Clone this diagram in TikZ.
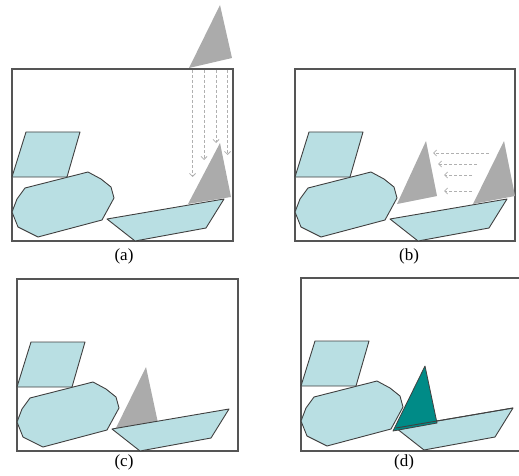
\documentclass[tikz,border=0pt]{standalone}
\usepackage{fontspec}
\setmainfont{Liberation Serif}
\usetikzlibrary{arrows.meta}
\definecolor{lb}{HTML}{B9DFE3}
\definecolor{gr}{HTML}{ABABAB}
\definecolor{tl}{HTML}{008B87}
\definecolor{ol}{HTML}{404040}
\definecolor{fr}{HTML}{555555}
\definecolor{ar}{HTML}{B0B0B0}
\newcommand\baseshapes{%
  \draw[shp] (26,132) -- (80,132) -- (67,177) -- (12,177) -- cycle;
  \draw[shp] (25,188) -- (88,172) -- (101,179) -- (111,187) -- (114,198) -- (102,220) -- (38,237) -- (18,227) -- (12,212) -- (17,199) -- cycle;
  \draw[shp] (107,219) -- (224,199) -- (206,228) -- (135,241) -- cycle;
}
\begin{document}
\begin{tikzpicture}[x=1pt,y=-1pt,
 shp/.style={fill=lb,draw=ol,line width=0.9pt,line join=round},
 frm/.style={draw=fr,line width=1.1pt},
 gtri/.style={fill=gr},
 ttri/.style={fill=tl,draw=ol,line width=0.8pt,line join=round},
 darr/.style={draw=ar,dash pattern=on 3pt off 2pt,line width=0.8pt,-{Straight Barb[length=3pt,width=6pt]}},
 lbl/.style={font=\fontsize{17}{17}\selectfont,inner sep=0pt}]
\useasboundingbox (0,0) rectangle (519,476);
% ---------- (a)
\begin{scope}
  \draw[frm] (12,69) rectangle (233,241);
  \fill[gtri] (220,5) -- (189,68) -- (232,58) -- cycle;
  \fill[gtri] (220,143) -- (188,204) -- (231,197) -- cycle;
  \baseshapes
  \coordinate (a1s) at (192.5,70); \coordinate (a1e) at (192.5,177);
  \coordinate (a2s) at (204,70);   \coordinate (a2e) at (204,160);
  \coordinate (a3s) at (216,70);   \coordinate (a3e) at (216,143);
  \coordinate (a4s) at (227.5,70); \coordinate (a4e) at (227.5,155);
  \draw[darr] (a1s) -- (a1e);
  \draw[darr] (a2s) -- (a2e);
  \draw[darr] (a3s) -- (a3e);
  \draw[darr] (a4s) -- (a4e);
  \node[lbl] (la) at (124,256) {(a)};
\end{scope}
% ---------- (b)
\begin{scope}[shift={(283,0)}]
  \draw[frm] (12,69) rectangle (232,241);
  \fill[gtri] (143,141) -- (114,204) -- (154,196) -- cycle;
  \fill[gtri] (221,141) -- (190,204) -- (232,196) -- cycle;
  \baseshapes
  \coordinate (b1s) at (206,153); \coordinate (b1e) at (150,153);
  \coordinate (b2s) at (194,164); \coordinate (b2e) at (155,164);
  \coordinate (b3s) at (189,175); \coordinate (b3e) at (161,175);
  \coordinate (b4s) at (189,191); \coordinate (b4e) at (161,191);
  \draw[darr] (b1s) -- (b1e);
  \draw[darr] (b2s) -- (b2e);
  \draw[darr] (b3s) -- (b3e);
  \draw[darr] (b4s) -- (b4e);
  \node[lbl] (lb) at (126,256) {(b)};
\end{scope}
% ---------- (c)
\begin{scope}[shift={(5,210)}]
  \draw[frm] (12,69) rectangle (233,241);
  \fill[gtri] (141,157) -- (110,220) -- (153,213) -- cycle;
  \baseshapes
  \node[lbl] (lc) at (119,252) {(c)};
\end{scope}
% ---------- (d)
\begin{scope}[shift={(289,209)}]
  \draw[frm] (230,69) -- (12,69) -- (12,242) -- (230,242);
  \baseshapes
  \draw[ttri] (136,157) -- (104,222) -- (148,214) -- cycle;
  \draw[shp,fill=none] (107,219) -- (224,199);
  \node[lbl] (ld) at (115,253) {(d)};
\end{scope}
\end{tikzpicture}
\end{document}
